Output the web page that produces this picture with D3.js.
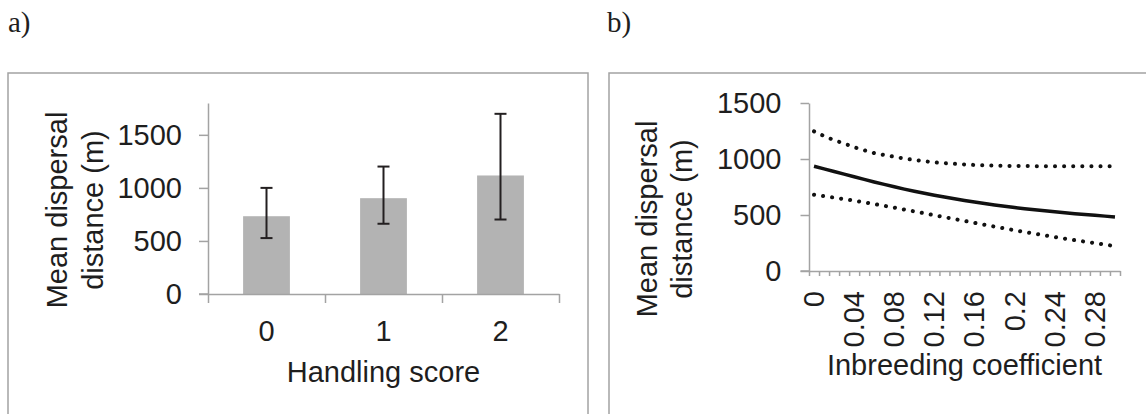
<!DOCTYPE html>
<html>
<head>
<meta charset="utf-8">
<script src="https://cdn.jsdelivr.net/npm/d3@7"></script>
<style>
  body { margin: 0; background: #fff; }
  text { font-family: "Liberation Sans", Arial, sans-serif; fill: #1e1e1e; }
</style>
</head>
<body>
<div id="chart"></div>
<script>
// a) handling score
var handlingScores = ['0', '1', '2'];
var handlingMeans  = [733, 903, 1117];
var handlingLower  = [527, 662, 702];
var handlingUpper  = [1000, 1201, 1698];
var handlingTicks  = [0, 500, 1000, 1500];

// b) inbreeding coefficient
var inbreeding = ['0', '0.01', '0.02', '0.03', '0.04', '0.05', '0.06', '0.07', '0.08', '0.09',
  '0.1', '0.11', '0.12', '0.13', '0.14', '0.15', '0.16', '0.17', '0.18', '0.19',
  '0.2', '0.21', '0.22', '0.23', '0.24', '0.25', '0.26', '0.27', '0.28', '0.29', '0.3'];
var inbreedingLabels = ['0', '0.04', '0.08', '0.12', '0.16', '0.2', '0.24', '0.28'];
var fitMean  = [935, 912, 888, 865, 842, 818, 795, 773, 752, 731, 712, 694, 677, 660, 645, 630,
  616, 602, 590, 578, 566, 556, 546, 537, 528, 520, 512, 505, 497, 490, 482];
var fitUpper = [1247, 1205, 1168, 1138, 1105, 1078, 1053, 1036, 1020, 1004, 991, 980, 970, 963, 957, 951,
  947, 944, 941, 939, 938, 937, 936, 936, 935, 935, 935, 935, 935, 935, 935];
var fitLower = [680, 668, 655, 642, 628, 613, 598, 582, 566, 549, 532, 515, 498, 481, 464, 447,
  430, 413, 396, 380, 364, 348, 333, 318, 303, 289, 275, 262, 249, 236, 222];
var inbreedingTicks = [0, 500, 1000, 1500];

var axisCol = '#a3a3a3';
var fs = 29;

var svg = d3.select('#chart').append('svg')
  .attr('width', 1146)
  .attr('height', 414);

// panel borders (bottom edge is outside the picture)
svg.append('rect').attr('x', 8).attr('y', 73).attr('width', 580).attr('height', 400)
  .attr('fill', 'none').attr('stroke', axisCol).attr('stroke-width', 1.5);
svg.append('rect').attr('x', 609).attr('y', 73).attr('width', 600).attr('height', 400)
  .attr('fill', 'none').attr('stroke', axisCol).attr('stroke-width', 1.5);

svg.append('text').attr('x', 8).attr('y', 32)
  .style('font-family', '"Liberation Serif", "Times New Roman", serif')
  .attr('font-size', 29).text('a)');
svg.append('text').attr('x', 607).attr('y', 32)
  .style('font-family', '"Liberation Serif", "Times New Roman", serif')
  .attr('font-size', 29).text('b)');

function styleAxis(g) {
  g.select('.domain').attr('stroke', axisCol).attr('stroke-width', 1.5);
  g.selectAll('.tick line').attr('stroke', axisCol).attr('stroke-width', 1.5);
  g.selectAll('.tick text').attr('font-size', fs).attr('fill', '#1e1e1e')
    .style('font-family', '"Liberation Sans", Arial, sans-serif');
}

function yTitle(cx, cy, gap) {
  var t = svg.append('text')
    .attr('transform', 'translate(' + cx + ',' + cy + ') rotate(-90)')
    .attr('text-anchor', 'middle')
    .attr('font-size', fs);
  t.append('tspan').attr('x', 0).attr('y', 0).text('Mean dispersal');
  t.append('tspan').attr('x', 0).attr('y', gap).text('distance (m)');
}

// ---------- a) bar chart ----------
var yA = d3.scaleLinear().domain([0, 1800]).range([294, 103]);
var xA = d3.scaleBand().domain(handlingScores).range([208, 559]);

var gA = svg.append('g');

gA.selectAll('rect.bar')
  .data(handlingScores)
  .enter().append('rect')
  .attr('class', 'bar')
  .attr('x', function(d) { return xA(d) + xA.bandwidth() * 0.3; })
  .attr('width', xA.bandwidth() * 0.4)
  .attr('y', function(d, i) { return yA(handlingMeans[i]); })
  .attr('height', function(d, i) { return yA(0) - yA(handlingMeans[i]); })
  .attr('fill', '#b3b3b3');

// y axis
gA.append('g')
  .attr('transform', 'translate(208,0)')
  .call(d3.axisLeft(yA).tickValues(handlingTicks).tickFormat(d3.format('d'))
    .tickSize(9).tickSizeOuter(0).tickPadding(17))
  .call(styleAxis);

// x axis line + tick marks at category boundaries
var edgeA = d3.scaleLinear().domain([0, handlingScores.length]).range(xA.range());
gA.append('g')
  .attr('transform', 'translate(0,294)')
  .call(d3.axisBottom(edgeA).tickValues(d3.range(handlingScores.length + 1))
    .tickFormat('').tickSize(9).tickSizeOuter(0))
  .call(styleAxis);
gA.append('line').attr('x1', 199).attr('x2', 208).attr('y1', 294).attr('y2', 294)
  .attr('stroke', axisCol).attr('stroke-width', 1.5);

// category labels
gA.append('g')
  .attr('transform', 'translate(0,294)')
  .call(d3.axisBottom(xA).tickSize(0).tickPadding(26))
  .call(styleAxis)
  .call(function(g) { g.select('.domain').remove(); });

// error bars
var err = gA.selectAll('g.err')
  .data(handlingScores)
  .enter().append('g')
  .attr('class', 'err')
  .attr('stroke', '#231f20')
  .attr('stroke-width', 2);
err.append('line')
  .attr('x1', function(d) { return xA(d) + xA.bandwidth() / 2; })
  .attr('x2', function(d) { return xA(d) + xA.bandwidth() / 2; })
  .attr('y1', function(d, i) { return yA(handlingUpper[i]); })
  .attr('y2', function(d, i) { return yA(handlingLower[i]); });
err.append('line')
  .attr('x1', function(d) { return xA(d) + xA.bandwidth() / 2 - 6; })
  .attr('x2', function(d) { return xA(d) + xA.bandwidth() / 2 + 6; })
  .attr('y1', function(d, i) { return yA(handlingUpper[i]); })
  .attr('y2', function(d, i) { return yA(handlingUpper[i]); });
err.append('line')
  .attr('x1', function(d) { return xA(d) + xA.bandwidth() / 2 - 6; })
  .attr('x2', function(d) { return xA(d) + xA.bandwidth() / 2 + 6; })
  .attr('y1', function(d, i) { return yA(handlingLower[i]); })
  .attr('y2', function(d, i) { return yA(handlingLower[i]); });

gA.append('text').attr('x', 383.5).attr('y', 382)
  .attr('text-anchor', 'middle').attr('font-size', fs).text('Handling score');
yTitle(67, 210, 36);

// ---------- b) line chart ----------
var yB = d3.scaleLinear().domain([0, 1500]).range([271, 103]);
var xB = d3.scaleBand().domain(inbreeding).range([809, 1120]);
var gB = svg.append('g');

gB.append('g')
  .attr('transform', 'translate(809,0)')
  .call(d3.axisLeft(yB).tickValues(inbreedingTicks).tickFormat(d3.format('d'))
    .tickSize(8.5).tickSizeOuter(0).tickPadding(19))
  .call(styleAxis);

var edgeB = d3.scaleLinear().domain([0, inbreeding.length]).range(xB.range());
gB.append('g')
  .attr('transform', 'translate(0,271)')
  .call(d3.axisBottom(edgeB).tickValues(d3.range(inbreeding.length + 1))
    .tickFormat('').tickSize(5).tickSizeOuter(0))
  .call(styleAxis);
gB.append('line').attr('x1', 800.5).attr('x2', 809).attr('y1', 271).attr('y2', 271)
  .attr('stroke', axisCol).attr('stroke-width', 1.5);

gB.append('g')
  .attr('transform', 'translate(0,271)')
  .call(d3.axisBottom(xB).tickValues(inbreedingLabels).tickSize(0).tickPadding(0))
  .call(styleAxis)
  .call(function(g) {
    g.select('.domain').remove();
    g.selectAll('.tick text')
      .attr('transform', 'rotate(-90)')
      .attr('text-anchor', 'end')
      .attr('x', -20)
      .attr('y', 0)
      .attr('dy', '0.34em');
  });

var lineB = function(vals) {
  return d3.line()
    .x(function(d, i) { return xB(inbreeding[i]) + xB.bandwidth() / 2; })
    .y(function(d) { return yB(d); })(vals);
};

gB.append('path').attr('d', lineB(fitUpper))
  .attr('fill', 'none').attr('stroke', '#111').attr('stroke-width', 4)
  .attr('stroke-linecap', 'round').attr('stroke-dasharray', '0.1,9');
gB.append('path').attr('d', lineB(fitLower))
  .attr('fill', 'none').attr('stroke', '#111').attr('stroke-width', 4)
  .attr('stroke-linecap', 'round').attr('stroke-dasharray', '0.1,9');
gB.append('path').attr('d', lineB(fitMean))
  .attr('fill', 'none').attr('stroke', '#111').attr('stroke-width', 3.5);

gB.append('text').attr('x', 964.5).attr('y', 375)
  .attr('text-anchor', 'middle').attr('font-size', fs).text('Inbreeding coefficient');
yTitle(657, 219, 35);
</script>
</body>
</html>
